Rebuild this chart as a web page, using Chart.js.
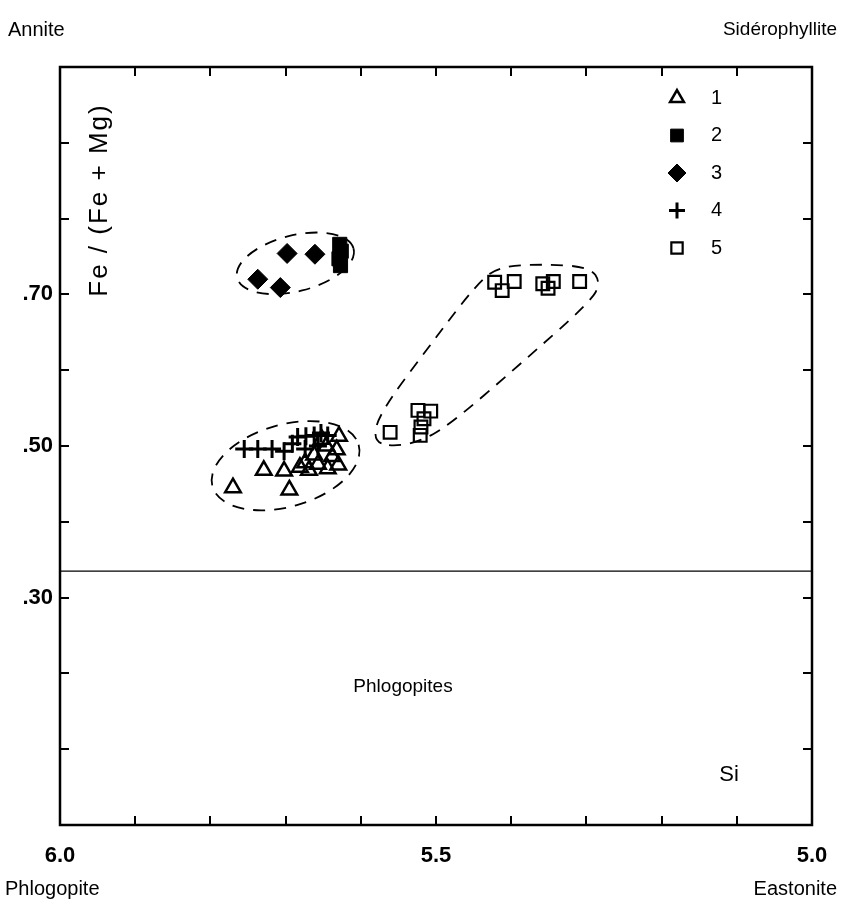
<!DOCTYPE html>
<html>
<head>
<meta charset="utf-8">
<script src="https://cdn.jsdelivr.net/npm/chart.js@4/dist/chart.umd.min.js"></script>
<style>
  html, body { margin: 0; padding: 0; background: #fff; }
  #wrap { position: relative; width: 844px; height: 905px; }
</style>
</head>
<body>
<div id="wrap"><canvas id="chart-biotite"></canvas></div>
<script>
// Si (apfu) on x, Fe / (Fe + Mg) on y
const group1Si = [5.770, 5.729, 5.702, 5.695, 5.681, 5.669, 5.657, 5.644, 5.630, 5.632, 5.629, 5.646, 5.662, 5.674, 5.638, 5.652];
const group1Fe = [0.445, 0.468, 0.467, 0.442, 0.472, 0.468, 0.476, 0.470, 0.475, 0.495, 0.513, 0.500, 0.488, 0.478, 0.486, 0.509];

const group2Si = [5.628, 5.626, 5.629, 5.627];
const group2Fe = [0.766, 0.757, 0.747, 0.738];

const group3Si = [5.737, 5.698, 5.707, 5.661];
const group3Fe = [0.720, 0.754, 0.709, 0.753];

const group4Si = [5.755, 5.737, 5.718, 5.702, 5.691, 5.684, 5.673, 5.662, 5.653, 5.644, 5.674, 5.657];
const group4Fe = [0.496, 0.496, 0.496, 0.493, 0.503, 0.512, 0.513, 0.514, 0.517, 0.514, 0.496, 0.500];

const group5Si = [5.561, 5.524, 5.507, 5.516, 5.520, 5.521, 5.422, 5.412, 5.396, 5.358, 5.351, 5.344, 5.309];
const group5Fe = [0.518, 0.547, 0.546, 0.536, 0.525, 0.514, 0.716, 0.705, 0.717, 0.714, 0.708, 0.717, 0.717];

const groupLabels = ['1', '2', '3', '4', '5'];

// phlogopite / annite boundary
const boundarySi = [6.0, 5.0];
const boundaryFe = [0.335, 0.335];

const xTickValues = [5.9, 5.8, 5.7, 5.6, 5.5, 5.4, 5.3, 5.2, 5.1];
const yTickValues = [0.1, 0.2, 0.3, 0.4, 0.5, 0.6, 0.7, 0.8, 0.9];
const xLabelValues = [6.0, 5.5, 5.0];
const xLabelText = ['6.0', '5.5', '5.0'];
const yLabelValues = [0.7, 0.5, 0.3];
const yLabelText = ['.70', '.50', '.30'];

// dashed ellipses round groups 2+3 and 1+4: centre (Si, Fe)
const ellipseSi = [5.687, 5.700];
const ellipseFe = [0.741, 0.474];

// hand-drawn outline round group 5 (Si, Fe)
const outline5Si = [5.584, 5.574, 5.508, 5.444, 5.415, 5.355, 5.295, 5.281, 5.295, 5.388, 5.484, 5.524, 5.561];
const outline5Fe = [0.508, 0.545, 0.633, 0.716, 0.737, 0.740, 0.736, 0.715, 0.690, 0.608, 0.526, 0.505, 0.499];

const FONT = "'Liberation Sans', Arial, sans-serif";

function toPoints(xs, ys) {
  return xs.map((v, i) => ({ x: v, y: ys[i] }));
}

const markerStyles = [
  { pointStyle: 'triangle', pointRadius: 9, borderWidth: 2.5, backgroundColor: 'rgba(0,0,0,0)' },
  { pointStyle: 'rect', pointRadius: 10, borderWidth: 1, backgroundColor: '#000' },
  { pointStyle: 'rectRot', pointRadius: 10, borderWidth: 1, backgroundColor: '#000' },
  { pointStyle: 'cross', pointRadius: 9, borderWidth: 3, backgroundColor: '#000' },
  { pointStyle: 'rect', pointRadius: 9, borderWidth: 2.2, backgroundColor: 'rgba(0,0,0,0)' },
];

const groupData = [
  toPoints(group1Si, group1Fe),
  toPoints(group2Si, group2Fe),
  toPoints(group3Si, group3Fe),
  toPoints(group4Si, group4Fe),
  toPoints(group5Si, group5Fe),
];

const outlinePlugin = {
  id: 'outlines',
  beforeDatasetsDraw(chart) {
    const { ctx, scales: { x, y } } = chart;
    const shapes = [
      { rx: 60, ry: 28, rot: -14 },
      { rx: 76, ry: 41, rot: -16 },
    ];
    ctx.save();
    ctx.strokeStyle = '#000';
    ctx.lineWidth = 1.8;
    ctx.setLineDash([12, 9]);
    shapes.forEach((s, i) => {
      ctx.beginPath();
      ctx.ellipse(x.getPixelForValue(ellipseSi[i]), y.getPixelForValue(ellipseFe[i]),
        s.rx, s.ry, s.rot * Math.PI / 180, 0, Math.PI * 2);
      ctx.stroke();
    });

    // smooth closed curve through the midpoints of the outline vertices
    const pts = outline5Si.map((v, i) => [x.getPixelForValue(v), y.getPixelForValue(outline5Fe[i])]);
    const n = pts.length;
    const mid = (p, q) => [(p[0] + q[0]) / 2, (p[1] + q[1]) / 2];
    ctx.beginPath();
    const start = mid(pts[n - 1], pts[0]);
    ctx.moveTo(start[0], start[1]);
    for (let i = 0; i < n; i++) {
      const m = mid(pts[i], pts[(i + 1) % n]);
      ctx.quadraticCurveTo(pts[i][0], pts[i][1], m[0], m[1]);
    }
    ctx.closePath();
    ctx.stroke();
    ctx.restore();
  },
};

const framePlugin = {
  id: 'frame',
  afterDraw(chart) {
    const { ctx, chartArea: a, scales: { x, y } } = chart;
    const tick = 9;
    ctx.save();
    ctx.strokeStyle = '#000';
    ctx.fillStyle = '#000';
    ctx.lineWidth = 2.5;
    ctx.strokeRect(a.left, a.top, a.right - a.left, a.bottom - a.top);

    ctx.lineWidth = 2;
    ctx.beginPath();
    xTickValues.forEach(v => {
      const px = Math.round(x.getPixelForValue(v));
      ctx.moveTo(px, a.bottom); ctx.lineTo(px, a.bottom - tick);
      ctx.moveTo(px, a.top); ctx.lineTo(px, a.top + tick);
    });
    yTickValues.forEach(v => {
      const py = Math.round(y.getPixelForValue(v));
      ctx.moveTo(a.left, py); ctx.lineTo(a.left + tick, py);
      ctx.moveTo(a.right, py); ctx.lineTo(a.right - tick, py);
    });
    ctx.stroke();

    // tick labels
    ctx.font = `bold 22px ${FONT}`;
    ctx.textBaseline = 'middle';
    ctx.textAlign = 'center';
    xLabelValues.forEach((v, i) => {
      ctx.fillText(xLabelText[i], x.getPixelForValue(v), a.bottom + 31);
    });
    ctx.textAlign = 'right';
    yLabelValues.forEach((v, i) => {
      ctx.fillText(yLabelText[i], a.left - 7, y.getPixelForValue(v));
    });

    // end-member names
    ctx.font = `20px ${FONT}`;
    ctx.textAlign = 'left';
    ctx.fillText('Annite', 8, 30);
    ctx.fillText('Phlogopite', 5, 889);
    ctx.textAlign = 'right';
    ctx.fillText('Eastonite', 837, 889);
    ctx.font = `19px ${FONT}`;
    ctx.fillText('Sidérophyllite', 837, 30);

    // field + axis names
    ctx.textAlign = 'center';
    ctx.fillText('Phlogopites', 403, 687);
    ctx.font = `22px ${FONT}`;
    ctx.fillText('Si', 729, 775);

    ctx.save();
    ctx.translate(100, 200);
    ctx.rotate(-Math.PI / 2);
    ctx.font = `26px ${FONT}`;
    ctx.letterSpacing = '2px';
    ctx.fillText('Fe / (Fe + Mg)', 0, 0);
    ctx.restore();

    // legend
    const drawPoint = Chart.helpers && Chart.helpers.drawPoint;
    ctx.font = `20px ${FONT}`;
    ctx.textAlign = 'left';
    groupLabels.forEach((label, i) => {
      const cy = 98 + i * 37.5;
      const st = markerStyles[i];
      if (drawPoint) {
        ctx.strokeStyle = '#000';
        ctx.fillStyle = st.backgroundColor;
        ctx.lineWidth = st.borderWidth;
        ctx.setLineDash([]);
        drawPoint(ctx, { pointStyle: st.pointStyle, radius: st.pointRadius - 1, rotation: 0, borderWidth: st.borderWidth }, 677, cy);
      }
      ctx.fillStyle = '#000';
      ctx.fillText(label, 711, cy);
    });
    ctx.restore();
  },
};

const datasets = groupData.map((pts, i) => ({
  label: groupLabels[i],
  data: pts,
  pointStyle: markerStyles[i].pointStyle,
  pointRadius: markerStyles[i].pointRadius,
  pointHoverRadius: markerStyles[i].pointRadius,
  pointBorderWidth: markerStyles[i].borderWidth,
  borderColor: '#000',
  backgroundColor: markerStyles[i].backgroundColor,
  pointBackgroundColor: markerStyles[i].backgroundColor,
  pointBorderColor: '#000',
}));

datasets.push({
  label: 'boundary',
  data: toPoints(boundarySi, boundaryFe),
  showLine: true,
  borderColor: '#000',
  borderWidth: 1.2,
  pointRadius: 0,
});

new Chart(document.getElementById('chart-biotite').getContext('2d'), {
  type: 'scatter',
  data: { datasets },
  options: {
    responsive: true,
    maintainAspectRatio: false,
    animation: false,
    layout: { padding: { left: 60, right: 32, top: 67, bottom: 80 } },
    plugins: { legend: { display: false }, tooltip: { enabled: false } },
    scales: {
      x: { type: 'linear', min: 5.0, max: 6.0, reverse: true, display: false },
      y: { type: 'linear', min: 0, max: 1.0, display: false },
    },
  },
  plugins: [outlinePlugin, framePlugin],
});
</script>
</body>
</html>
